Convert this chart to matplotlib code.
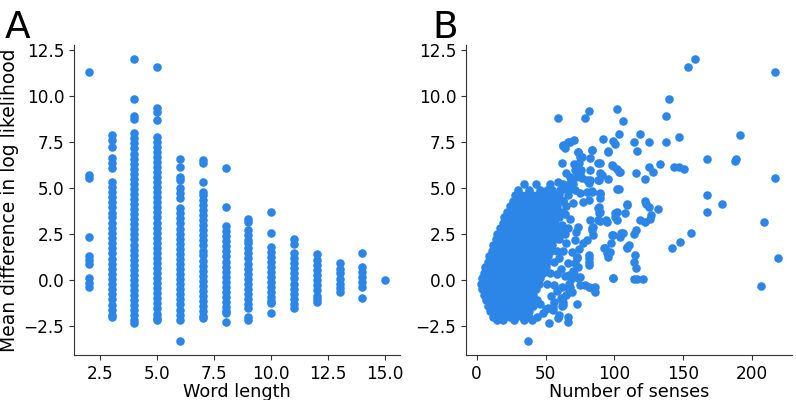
import matplotlib
matplotlib.use('Agg')
import matplotlib.pyplot as plt

# ---- panel A: word length vs mean difference in log likelihood ----
word_lengths = [2, 3, 4, 5, 6, 7, 8, 9, 10, 11, 12, 13, 14, 15]
diff_by_length = [
    [11.32, 5.7, 5.52, 2.35, 1.3, 1.08, 0.86, 0.08, -0.15, -0.37],
    [7.88, 7.6, 7.2, 6.61, 6.34, 6.06, 5.34, 5.05, 4.78, 4.5, 4.22, 3.95, 3.66,
     3.4, 3.1, 2.83, 2.55, 2.27, 2.0, 1.72, 1.44, 1.16, 0.88, 0.6, 0.33, 0.05,
     -0.23, -0.5, -0.78, -1.06, -1.34, -1.62, -1.9, -2.04],
    [12.0, 9.81, 8.9, 8.73, 7.97, 7.7, 7.42, 7.15, 6.87, 6.6, 6.32, 6.05, 5.77,
     5.5, 5.22, 4.95, 4.67, 4.4, 4.12, 3.85, 3.57, 3.3, 3.02, 2.75, 2.47, 2.2,
     1.92, 1.65, 1.37, 1.1, 0.82, 0.55, 0.27, 0.0, -0.28, -0.55, -0.83, -1.1,
     -1.38, -1.65, -1.93, -2.2, -2.36],
    [11.59, 9.33, 9.14, 8.69, 7.79, 7.52, 7.24, 6.97, 6.7, 6.42, 6.15, 5.87,
     5.6, 5.32, 5.05, 4.77, 4.5, 4.22, 3.95, 3.67, 3.4, 3.12, 2.85, 2.57, 2.3,
     2.02, 1.75, 1.47, 1.2, 0.92, 0.65, 0.37, 0.1, -0.18, -0.45, -0.73, -1.0,
     -1.28, -1.55, -1.83, -2.05, -2.18],
    [6.55, 6.15, 5.61, 5.43, 4.98, 4.7, 4.43, 3.89, 3.62, 3.34, 3.07, 2.79,
     2.52, 2.24, 1.97, 1.69, 1.42, 1.14, 0.87, 0.59, 0.32, 0.04, -0.23, -0.51,
     -0.78, -1.06, -1.33, -1.61, -1.88, -2.18, -3.32],
    [6.52, 6.37, 5.34, 4.8, 4.6, 4.35, 4.1, 3.8, 3.53, 3.25, 2.98, 2.7, 2.43,
     2.15, 1.88, 1.6, 1.33, 1.05, 0.78, 0.5, 0.23, -0.05, -0.32, -0.6, -0.87,
     -1.15, -1.42, -1.7, -1.95, -2.09],
    [6.1, 3.94, 2.93, 2.65, 2.38, 2.1, 1.83, 1.55, 1.28, 1.0, 0.73, 0.45, 0.18,
     -0.1, -0.37, -0.65, -0.92, -1.2, -1.47, -1.7, -1.82, -2.27],
    [3.29, 3.15, 2.71, 2.45, 2.17, 1.99, 1.72, 1.44, 1.17, 0.89, 0.62, 0.34,
     0.07, -0.21, -0.48, -0.76, -1.03, -1.31, -1.55, -2.0, -2.18],
    [3.71, 2.57, 1.81, 1.54, 1.27, 1.0, 0.72, 0.45, 0.17, -0.1, -0.38, -0.65,
     -0.93, -1.15, -1.27, -1.78],
    [2.2, 1.95, 1.45, 1.18, 0.9, 0.63, 0.35, 0.08, -0.2, -0.47, -0.75, -1.02,
     -1.3, -1.55],
    [1.41, 1.08, 0.8, 0.53, 0.25, -0.02, -0.3, -0.57, -0.85, -1.05, -1.18],
    [0.9, 0.62, 0.35, 0.07, -0.2, -0.45, -0.64],
    [1.45, 0.72, 0.45, 0.18, -0.1, -0.4, -0.97],
    [0.0],
]

# ---- panel B: number of senses vs mean difference ----
# dense core, one row of points per level of the difference
core_levels = [5.2, 4.9, 4.6, 4.3, 4.0, 3.7, 3.4, 3.1, 2.8, 2.5, 2.2, 1.9, 1.6,
               1.3, 1.0, 0.7, 0.4, 0.1, -0.2, -0.5, -0.8, -1.1, -1.4, -1.7,
               -2.0, -2.2]
core_senses = [
    [34, 43, 53, 63, 68],
    [30, 38, 46, 51, 55, 61, 66],
    [28, 32, 36, 40, 44, 48, 52, 56, 60],
    [26, 30, 34, 38, 42, 46, 50, 54, 58, 63],
    [24, 27, 31, 35, 39, 43, 47, 51, 55, 58, 65],
    [22, 25, 29, 33, 37, 41, 45, 49, 53, 56, 61],
    [20, 24, 28, 32, 36, 40, 44, 48, 52, 55, 60],
    [19, 22, 26, 30, 34, 38, 42, 46, 50, 54, 57],
    [17, 21, 25, 29, 33, 37, 41, 45, 49, 53, 56, 62],
    [15, 19, 23, 27, 31, 35, 39, 43, 47, 51, 55, 59, 64],
    [14, 17, 21, 25, 29, 33, 37, 41, 45, 49, 53, 57, 60],
    [12, 16, 20, 24, 28, 32, 36, 40, 44, 48, 52, 55],
    [11, 14, 18, 22, 26, 30, 34, 38, 42, 46, 50, 54, 58],
    [9, 13, 17, 21, 25, 29, 33, 37, 41, 45, 49, 52],
    [8, 11, 15, 19, 23, 27, 31, 35, 39, 43, 47, 51, 56],
    [6, 10, 14, 18, 22, 26, 30, 34, 38, 42, 46, 50],
    [5, 9, 13, 17, 21, 25, 29, 33, 37, 41, 45, 48, 53],
    [4, 7, 11, 15, 19, 23, 27, 31, 35, 39, 43, 46],
    [3, 6, 10, 14, 18, 22, 26, 30, 34, 38, 42, 45, 51],
    [4, 8, 12, 16, 20, 24, 28, 32, 36, 40, 43],
    [5, 9, 13, 17, 21, 25, 29, 33, 37, 41],
    [7, 11, 15, 19, 23, 27, 31, 35, 39, 44],
    [8, 12, 16, 20, 24, 28, 32, 36, 41],
    [10, 14, 18, 22, 26, 30, 34, 38],
    [12, 16, 20, 24, 28, 33, 38],
    [15, 19, 27, 34, 40],
]
# scattered words around and beyond the core: (number of senses, difference)
spread_points = [
    (158.7, 12.0), (153.8, 11.56), (216.8, 11.32), (140, 9.82), (101.7, 9.29),
    (81.2, 9.18), (78.7, 8.79), (58.9, 8.79), (105.9, 8.64), (137.6, 8.9),
    (191.4, 7.88), (118.7, 7.92), (147, 7.75), (103.7, 7.92), (92, 7.66),
    (99.3, 7.57), (100.5, 7.39), (113.9, 7.52), (124.8, 7.52), (137.6, 7.48),
    (116.3, 7.01), (95.7, 7.01), (84, 7.05), (70.7, 7.6), (66.6, 7.52),
    (63, 7.34), (64.2, 7.19), (73.9, 6.97), (167.6, 6.56), (188.5, 6.56),
    (187.3, 6.47), (133.2, 6.3), (143.4, 6.16), (146.6, 6.16), (150.2, 6.01),
    (124.8, 6.16), (127.7, 5.87), (122.3, 5.47), (115.8, 5.8), (104.2, 5.89),
    (99.3, 6.21), (102.2, 6.01), (216.8, 5.56), (167.6, 4.64), (167.6, 3.71),
    (178.5, 4.11), (208.3, 3.17), (155.8, 2.57), (147.8, 2.08), (141.7, 1.72),
    (218.7, 1.21), (206.4, -0.33), (113.9, 0.04), (116.3, 0.04), (120.6, 0.04),
    (98.8, 0.09), (131.5, 3.86), (122.3, 4.29), (123.3, 4.13), (124.8, 3.99),
    (122.3, 3.17), (126.7, 3.53), (125.5, 3.32), (118.7, 3.26), (115.8, 2.72),
    (113.9, 2.48), (103, 4.95), (109, 4.13), (107.8, 3.62), (100.5, 3.62),
    (101.7, 3.26), (94, 3.26), (89.6, 3.21), (88.9, 3.62), (88.9, 3.95),
    (89.6, 4.66), (89.6, 4.44), (83.6, 4.8), (79.9, 5.43), (81.2, 5.25),
    (88.9, 5.43), (90.8, 5.71), (88.4, 6.34), (82.4, 6.61), (75.1, 6.7),
    (70.3, 6.29), (61.8, 6.34), (99.3, 2.45), (104.2, 2.36), (105, 2.54),
    (110.7, 1.9), (109, 1.72), (97.4, 2.03), (94.5, 1.45), (92.5, 1.72),
    (115, 1.36), (113.9, 0.96), (115.8, 0.63), (84.8, 2.9), (83.6, 2.72),
    (79.9, 2.17), (81.2, 1.36), (81.2, 1.0), (72.7, 1.18), (73.9, 0.72),
    (67.2, 0.27), (68.5, 0.04), (73.9, 0.09), (75.1, -0.27), (81.2, -0.36),
    (86, -0.36), (86, -0.63), (67.2, -0.45), (67.2, -0.63), (72.7, -1.3),
    (66.6, -2.26), (58.9, -2.05), (52.8, -2.36), (37.1, -3.32), (63, -1.18),
    (61.8, -1.41), (55.7, -1.45),
    (63, 7.28), (67.8, 7.52), (73.9, 6.98), (83.6, 7.07), (95.7, 6.98),
    (76.3, 6.7), (74.6, 6.38), (89.6, 6.34), (98.1, 6.25), (103, 5.89),
    (71.5, 5.98), (75.1, 5.8), (76.3, 5.53), (82.4, 5.98), (82.4, 5.44),
    (89.6, 5.8), (88.4, 5.44), (95.7, 5.47), (101.7, 4.93), (67.8, 5.25),
    (63, 5.07), (60.6, 4.89), (71.5, 4.89), (75.1, 4.71), (79.9, 4.8),
    (83.6, 4.86), (89.6, 4.71), (77.5, 4.26), (81.2, 4.35), (88.4, 3.9),
    (89.6, 3.71), (82.4, 3.26), (88.4, 3.26), (94.5, 3.17), (100.5, 3.44),
    (101.7, 3.71), (109, 4.08), (73.9, 2.9), (83.6, 2.81), (84.8, 2.45),
    (77.5, 1.99), (71.5, 2.17), (98.1, 2.45), (106.6, 2.54), (93.3, 1.72),
    (96.9, 1.54), (95.7, 1.27), (109, 1.81), (72.7, 1.27), (71.5, 0.9),
    (81.2, 1.18), (81.2, 0.81), (75.1, 0.18), (67.8, -0.36), (69, -0.63),
    (78.7, -0.27), (83.6, -0.45), (99.3, 0.09), (61.8, -1.09), (63, -1.36),
    (59.4, -1.9), (66.6, -1.99), (55.7, -1.63),
    (66, 4.6), (70, 4.2), (68, 3.3), (72, 2.6), (65, 2.0), (69, 1.5), (74, 1.7),
    (66, 0.9), (70, 0.5), (64, 0.2), (67, -0.2), (71, 0.3), (62, -0.4),
    (65, -0.8), (58, -0.6), (61, -1.0), (56, -1.2), (52, -1.5), (54, -0.9),
    (50, -1.6), (48, -1.8), (46, -1.3), (44, -2.0), (62, 3.0), (64, 3.6),
    (60, 1.2), (63, 1.6), (58, 0.3), (61, 0.6), (56, -0.3), (59, 2.7),
    (66, 2.8), (63, 4.3), (59, 5.3), (70, 5.2), (72, 5.6), (76, 6.0),
    (68, 5.6), (65, 5.8),
]

ylabel = 'Mean difference in log likelihood'
point_color = '#2c86e8'

plt.rcParams['font.family'] = ['DejaVu Sans']

fig = plt.figure(figsize=(7.96, 4.0), dpi=100)
ax_a = fig.add_axes([0.093, 0.1125, 0.4095, 0.775])
ax_b = fig.add_axes([0.5854, 0.1125, 0.4096, 0.775])

xs_a, ys_a = [], []
for length, vals in zip(word_lengths, diff_by_length):
    xs_a += [length] * len(vals)
    ys_a += vals
ax_a.scatter(xs_a, ys_a, s=38, color=point_color, linewidths=0)

xs_b, ys_b = [], []
for level, row in zip(core_levels, core_senses):
    xs_b += row
    ys_b += [level] * len(row)
xs_b += [p[0] for p in spread_points]
ys_b += [p[1] for p in spread_points]
ax_b.scatter(xs_b, ys_b, s=38, color=point_color, linewidths=0)

for ax in (ax_a, ax_b):
    ax.spines['top'].set_visible(False)
    ax.spines['right'].set_visible(False)
    for side in ('left', 'bottom'):
        ax.spines[side].set_color('#333333')
    ax.set_ylim(-4.08, 12.77)
    ax.set_yticks([-2.5, 0.0, 2.5, 5.0, 7.5, 10.0, 12.5])
    ax.tick_params(labelsize=12.2, color='#333333')

ax_a.set_xlim(1.35, 15.65)
ax_a.set_xticks([2.5, 5.0, 7.5, 10.0, 12.5, 15.0])
ax_a.set_xlabel('Word length', fontsize=12.7, labelpad=0)
ax_a.set_ylabel(ylabel, fontsize=13.5, labelpad=3.3)

ax_b.set_xlim(-7.8, 229)
ax_b.set_xticks([0, 50, 100, 150, 200])
ax_b.set_xlabel('Number of senses', fontsize=12.7, labelpad=0)

fig.text(0.006, 0.975, 'A', fontsize=27, va='top', ha='left')
fig.text(0.543, 0.975, 'B', fontsize=27, va='top', ha='left')

fig.savefig('out.png', dpi=100)
